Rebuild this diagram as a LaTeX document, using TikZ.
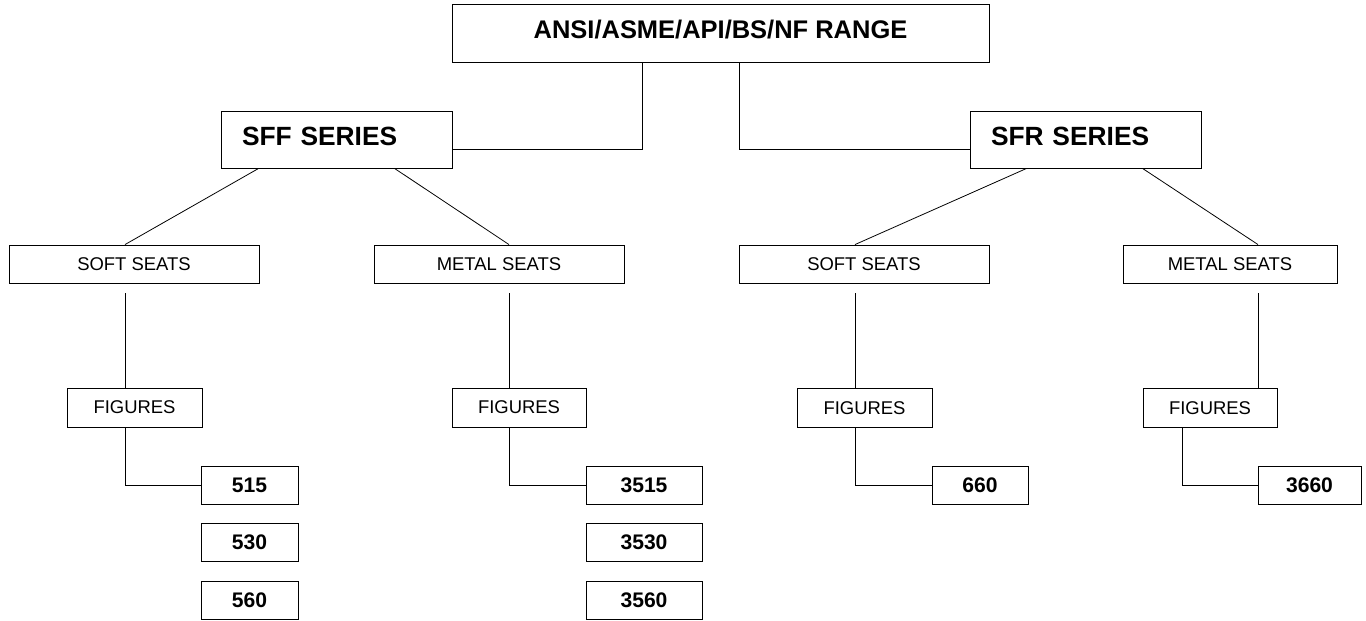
\documentclass[tikz,border=0pt]{standalone}
\usepackage{fontspec}
\setmainfont{Liberation Sans}
\usetikzlibrary{positioning}
\newlength\pxl
\setlength\pxl{0.02cm}

\begin{document}
\begin{tikzpicture}[x=1\pxl, y=-1\pxl,
  box/.style={draw, line width=0.5pt, inner sep=0pt},
  series/.style={box, font=\fontsize{15}{18}\selectfont\bfseries, minimum width=231\pxl, minimum height=57\pxl, text width=189\pxl, align=left, text depth=7\pxl},
  seats/.style={box, font=\fontsize{10.5}{12}\selectfont, minimum height=38\pxl},
  figs/.style={box, font=\fontsize{10.5}{12}\selectfont, minimum height=39\pxl},
  num/.style={box, font=\fontsize{12}{14}\selectfont\bfseries, minimum height=38\pxl},
  link/.style={line width=0.45pt}]
\useasboundingbox (0,0) rectangle (1366,620);

% top level and the two series
\node[box, font=\fontsize{14.5}{17}\selectfont\bfseries, minimum width=537\pxl, minimum height=58\pxl, text depth=7\pxl] (range) at (720.5,33) {ANSI/ASME/API/BS/NF RANGE};
\node[series] (sff) at (336.5,139.5) {SFF SERIES};
\node[series] (sfr) at (1085.5,139.5) {SFR SERIES};

% seats
\node[seats, minimum width=250\pxl] (softa) at (134,264) {SOFT SEATS};
\node[seats, minimum width=250\pxl] (metala) at (499,264) {METAL SEATS};
\node[seats, minimum width=250\pxl] (softb) at (864,264) {SOFT SEATS};
\node[seats, minimum width=214\pxl] (metalb) at (1230,264) {METAL SEATS};

% figures
\node[figs, minimum width=135\pxl] (figa) at (134.5,407.5) {FIGURES};
\node[figs, minimum width=134\pxl] (figb) at (519,407.5) {FIGURES};
\node[figs, minimum width=135\pxl] (figc) at (864.5,408) {FIGURES};
\node[figs, minimum width=134\pxl] (figd) at (1210,408) {FIGURES};

% figure numbers
\foreach \n/\y in {515/485,530/542.5,560/600}
  \node[num, minimum width=97\pxl] (n\n) at (249.5,\y) {\n};
\foreach \n/\y in {3515/485,3530/542.5,3560/600}
  \node[num, minimum width=116\pxl] (n\n) at (644,\y) {\n};
\node[num, minimum width=96\pxl] (n660) at (980,485) {660};
\node[num, minimum width=103\pxl] (n3660) at (1309.5,485) {3660};

% connectors
\draw[link] ([xshift=191\pxl]range.south west) |- ([yshift=-9.5\pxl]sff.east);
\draw[link] ([xshift=288\pxl]range.south west) |- ([yshift=-9.5\pxl]sfr.west);

\draw[link] ([xshift=38\pxl]sff.south west) -- ([xshift=-9\pxl]softa.north);
\draw[link] ([xshift=174\pxl]sff.south west) -- ([xshift=10\pxl]metala.north);
\draw[link] ([xshift=57\pxl]sfr.south west) -- ([xshift=-9\pxl]softb.north);
\draw[link] ([xshift=173\pxl]sfr.south west) -- ([xshift=28\pxl]metalb.north);

\draw[link] ([xshift=-9\pxl,yshift=-10\pxl]softa.south) coordinate (sa) -- (sa |- figa.north);
\draw[link] ([xshift=10\pxl,yshift=-10\pxl]metala.south) coordinate (ma) -- (ma |- figb.north);
\draw[link] ([xshift=-9\pxl,yshift=-10\pxl]softb.south) coordinate (sb) -- (sb |- figc.north);
\draw[link] ([xshift=28\pxl,yshift=-10\pxl]metalb.south) coordinate (mb) -- (mb |- figd.north);

\draw[link] ([xshift=-9.5\pxl]figa.south) |- (n515.west);
\draw[link] ([xshift=-10\pxl]figb.south) |- (n3515.west);
\draw[link] ([xshift=-9.5\pxl]figc.south) |- (n660.west);
\draw[link] ([xshift=-28\pxl]figd.south) |- (n3660.west);

\end{tikzpicture}
\end{document}
